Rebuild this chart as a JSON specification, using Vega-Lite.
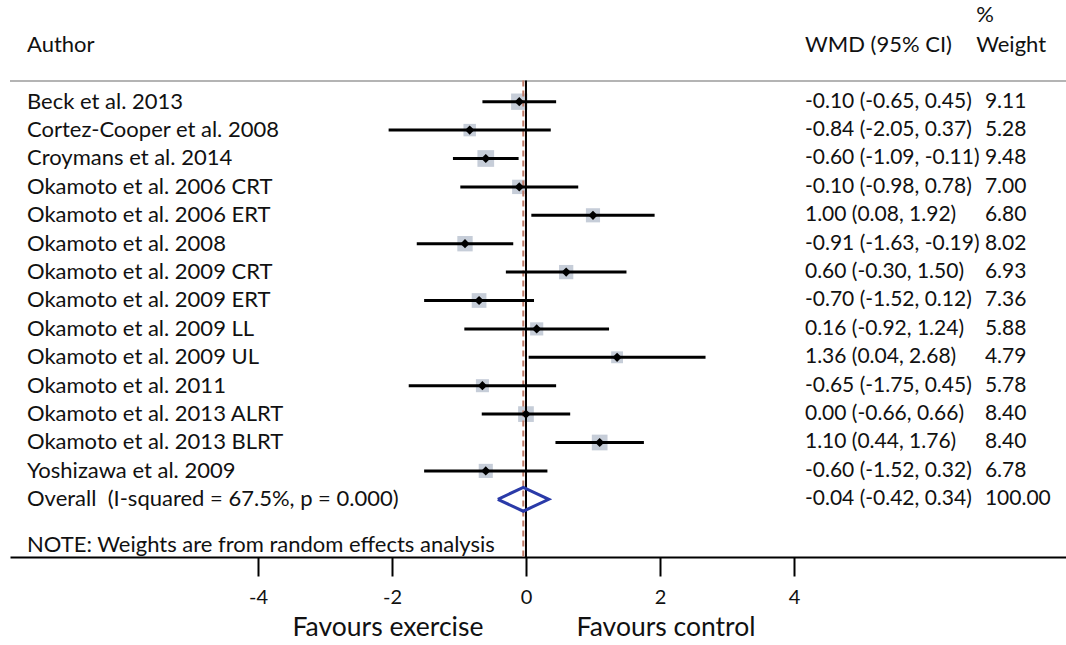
{
  "$schema": "https://vega.github.io/schema/vega-lite/v6.json",
  "width": 1056,
  "height": 557,
  "autosize": {"type": "none"},
  "padding": {"left": 10, "top": 0, "right": 0, "bottom": 88},
  "background": "#ffffff",
  "config": {
    "view": {"stroke": null},
    "axisY": {"disable": true},
    "axisX": {
      "domainColor": "#000000", "domainWidth": 2,
      "tickColor": "#000000", "tickWidth": 2, "tickSize": 19,
      "labelFont": "Lato", "labelFontSize": 20, "labelColor": "#111111",
      "labelPadding": 11, "grid": false, "labelFlush": false
    }
  },
  "datasets": {
    "studies": [
      {"row": 1, "author": "Beck et al. 2013", "est": -0.10, "lo": -0.65, "hi": 0.45, "w": 9.11, "ci": "-0.10 (-0.65, 0.45)", "wt": "9.11"},
      {"row": 2, "author": "Cortez-Cooper et al. 2008", "est": -0.84, "lo": -2.05, "hi": 0.37, "w": 5.28, "ci": "-0.84 (-2.05, 0.37)", "wt": "5.28"},
      {"row": 3, "author": "Croymans et al. 2014", "est": -0.60, "lo": -1.09, "hi": -0.11, "w": 9.48, "ci": "-0.60 (-1.09, -0.11)", "wt": "9.48"},
      {"row": 4, "author": "Okamoto et al. 2006 CRT", "est": -0.10, "lo": -0.98, "hi": 0.78, "w": 7.00, "ci": "-0.10 (-0.98, 0.78)", "wt": "7.00"},
      {"row": 5, "author": "Okamoto et al. 2006 ERT", "est": 1.00, "lo": 0.08, "hi": 1.92, "w": 6.80, "ci": "1.00 (0.08, 1.92)", "wt": "6.80"},
      {"row": 6, "author": "Okamoto et al. 2008", "est": -0.91, "lo": -1.63, "hi": -0.19, "w": 8.02, "ci": "-0.91 (-1.63, -0.19)", "wt": "8.02"},
      {"row": 7, "author": "Okamoto et al. 2009 CRT", "est": 0.60, "lo": -0.30, "hi": 1.50, "w": 6.93, "ci": "0.60 (-0.30, 1.50)", "wt": "6.93"},
      {"row": 8, "author": "Okamoto et al. 2009 ERT", "est": -0.70, "lo": -1.52, "hi": 0.12, "w": 7.36, "ci": "-0.70 (-1.52, 0.12)", "wt": "7.36"},
      {"row": 9, "author": "Okamoto et al. 2009 LL", "est": 0.16, "lo": -0.92, "hi": 1.24, "w": 5.88, "ci": "0.16 (-0.92, 1.24)", "wt": "5.88"},
      {"row": 10, "author": "Okamoto et al. 2009 UL", "est": 1.36, "lo": 0.04, "hi": 2.68, "w": 4.79, "ci": "1.36 (0.04, 2.68)", "wt": "4.79"},
      {"row": 11, "author": "Okamoto et al. 2011", "est": -0.65, "lo": -1.75, "hi": 0.45, "w": 5.78, "ci": "-0.65 (-1.75, 0.45)", "wt": "5.78"},
      {"row": 12, "author": "Okamoto et al. 2013 ALRT", "est": 0.00, "lo": -0.66, "hi": 0.66, "w": 8.40, "ci": "0.00 (-0.66, 0.66)", "wt": "8.40"},
      {"row": 13, "author": "Okamoto et al. 2013 BLRT", "est": 1.10, "lo": 0.44, "hi": 1.76, "w": 8.40, "ci": "1.10 (0.44, 1.76)", "wt": "8.40"},
      {"row": 14, "author": "Yoshizawa et al. 2009", "est": -0.60, "lo": -1.52, "hi": 0.32, "w": 6.78, "ci": "-0.60 (-1.52, 0.32)", "wt": "6.78"},
      {"row": 15, "author": "Overall\u00a0\u00a0(I-squared = 67.5%, p = 0.000)", "est": -0.04, "lo": -0.42, "hi": 0.34, "w": 100.00, "ci": "-0.04 (-0.42, 0.34)", "wt": "100.00"}
    ],
    "diamond": [
      {"ord": 1, "x": -0.42, "y": 15.0},
      {"ord": 2, "x": -0.04, "y": 14.58},
      {"ord": 3, "x": 0.34, "y": 15.0},
      {"ord": 4, "x": -0.04, "y": 15.42},
      {"ord": 5, "x": -0.42, "y": 15.0}
    ],
    "vlines": [
      {"x": 0, "y": 0.25, "y2": 17.032, "kind": "zero"},
      {"x": -0.04, "y": 0.25, "y2": 17.032, "kind": "overall"}
    ],
    "labels": [
      {"x": -7.447, "y": -1.0, "text": "Author"},
      {"x": 4.164, "y": -1.0, "text": "WMD (95% CI)"},
      {"x": 6.72, "y": -2.05, "text": "%"},
      {"x": 6.72, "y": -1.0, "text": "Weight"},
      {"x": -7.447, "y": 16.6, "text": "NOTE: Weights are from random effects analysis"}
    ],
    "favours": [
      {"x": -2.06, "y": 19.53, "text": "Favours exercise"},
      {"x": 2.09, "y": 19.53, "text": "Favours control"}
    ]
  },
  "layer": [
    {
      "data": {"values": [{"y": 0.27}]},
      "mark": {"type": "rule", "color": "#b4b4b4", "strokeWidth": 2},
      "encoding": {
        "y": {"field": "y", "type": "quantitative", "scale": {"domain": [-2.581, 17.032], "reverse": true, "nice": false, "zero": false}, "axis": null}
      }
    },
    {
      "data": {"name": "studies"},
      "transform": [{"filter": "datum.row < 15"}],
      "mark": {"type": "point", "shape": "square", "filled": true, "color": "#c6cdd8", "opacity": 1},
      "encoding": {
        "x": {"field": "est", "type": "quantitative", "title": null, "scale": {"domain": [-7.701, 8.060], "nice": false, "zero": false},
              "axis": {"values": [-4, -2, 0, 2, 4], "labelExpr": "toString(datum.value)", "title": null}},
        "y": {"field": "row", "type": "quantitative", "scale": {"domain": [-2.581, 17.032], "reverse": true, "nice": false, "zero": false}, "axis": null},
        "size": {"field": "w", "type": "quantitative", "scale": {"type": "linear", "domain": [0, 10], "range": [0, 294]}, "legend": null}
      }
    },
    {
      "data": {"name": "vlines"},
      "mark": {"type": "rule"},
      "encoding": {
        "x": {"field": "x", "type": "quantitative", "title": null},
        "y": {"field": "y", "type": "quantitative", "axis": null},
        "y2": {"field": "y2"},
        "color": {"field": "kind", "type": "nominal", "scale": {"domain": ["zero", "overall"], "range": ["#000000", "#c07a68"]}, "legend": null},
        "strokeDash": {"field": "kind", "type": "nominal", "scale": {"domain": ["zero", "overall"], "range": [[1, 0], [6, 4]]}, "legend": null},
        "strokeWidth": {"value": 2}
      }
    },
    {
      "data": {"name": "studies"},
      "transform": [{"filter": "datum.row < 15"}],
      "mark": {"type": "rule", "color": "#000000", "strokeWidth": 3},
      "encoding": {
        "x": {"field": "lo", "type": "quantitative", "title": null},
        "x2": {"field": "hi"},
        "y": {"field": "row", "type": "quantitative", "axis": null}
      }
    },
    {
      "data": {"name": "studies"},
      "transform": [{"filter": "datum.row < 15"}],
      "mark": {"type": "point", "shape": "diamond", "filled": true, "color": "#000000", "size": 85, "opacity": 1},
      "encoding": {
        "x": {"field": "est", "type": "quantitative", "title": null},
        "y": {"field": "row", "type": "quantitative", "axis": null}
      }
    },
    {
      "data": {"name": "diamond"},
      "mark": {"type": "line", "color": "#2a3aa8", "strokeWidth": 3, "strokeJoin": "miter"},
      "encoding": {
        "x": {"field": "x", "type": "quantitative", "title": null},
        "y": {"field": "y", "type": "quantitative", "axis": null},
        "order": {"field": "ord", "type": "quantitative"}
      }
    },
    {
      "data": {"name": "studies"},
      "mark": {"type": "text", "align": "left", "baseline": "middle", "font": "Lato", "fontSize": 22, "color": "#111111"},
      "encoding": {
        "x": {"datum": -7.447, "type": "quantitative", "title": null},
        "y": {"field": "row", "type": "quantitative", "axis": null},
        "text": {"field": "author"}
      }
    },
    {
      "data": {"name": "studies"},
      "mark": {"type": "text", "align": "left", "baseline": "middle", "font": "Lato", "fontSize": 21, "color": "#111111"},
      "encoding": {
        "x": {"datum": 4.164, "type": "quantitative", "title": null},
        "y": {"field": "row", "type": "quantitative", "axis": null},
        "text": {"field": "ci"}
      }
    },
    {
      "data": {"name": "studies"},
      "mark": {"type": "text", "align": "left", "baseline": "middle", "font": "Lato", "fontSize": 21, "color": "#111111"},
      "encoding": {
        "x": {"datum": 6.85, "type": "quantitative", "title": null},
        "y": {"field": "row", "type": "quantitative", "axis": null},
        "text": {"field": "wt"}
      }
    },
    {
      "data": {"name": "labels"},
      "mark": {"type": "text", "align": "left", "baseline": "middle", "font": "Lato", "fontSize": 22, "color": "#111111"},
      "encoding": {
        "x": {"field": "x", "type": "quantitative", "title": null},
        "y": {"field": "y", "type": "quantitative", "axis": null},
        "text": {"field": "text"}
      }
    },
    {
      "data": {"name": "favours"},
      "mark": {"type": "text", "align": "center", "baseline": "middle", "font": "Lato", "fontSize": 26.5, "color": "#111111"},
      "encoding": {
        "x": {"field": "x", "type": "quantitative", "title": null},
        "y": {"field": "y", "type": "quantitative", "axis": null},
        "text": {"field": "text"}
      }
    }
  ]
}
